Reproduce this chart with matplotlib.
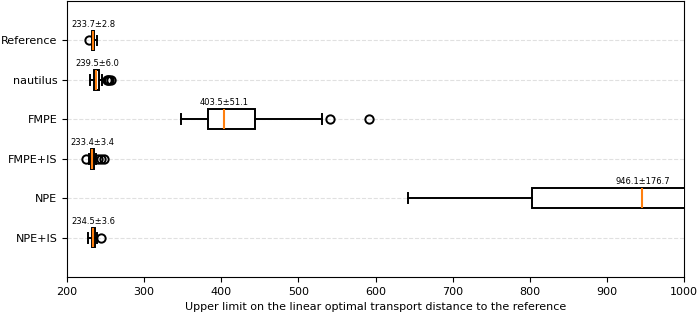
import numpy as np
import matplotlib
matplotlib.use("Agg")
import matplotlib.pyplot as plt

# Box statistics
methods = ["Reference", "nautilus", "FMPE", "FMPE+IS", "NPE", "NPE+IS"]
means = [233.7, 239.5, 403.5, 233.4, 946.1, 234.5]
stds = [2.8, 6.0, 51.1, 3.4, 176.7, 3.6]
medians = [234.0, 238.0, 403.0, 233.0, 946.0, 234.0]
q1 = [233.0, 235.5, 382.5, 231.5, 803.5, 232.0]
q3 = [235.0, 241.5, 443.5, 235.0, 1085.0, 236.0]
whislo = [232.0, 229.5, 348.0, 228.5, 642.0, 227.5]
whishi = [238.5, 246.0, 530.0, 238.0, 1290.0, 238.5]
fliers = [
    [228.5],
    [252.0, 253.5, 255.0, 256.5],
    [541.0, 592.0],
    [224.5, 240.5, 244.0, 248.5],
    [],
    [244.0],
]

stats = []
for i, name in enumerate(methods):
    stats.append(dict(label=name, med=medians[i], q1=q1[i], q3=q3[i],
                      whislo=whislo[i], whishi=whishi[i], fliers=fliers[i]))

plt.rcParams["font.size"] = 8

fig = plt.figure(figsize=(6.99, 3.15), dpi=100)
ax = fig.add_axes([67 / 699, 38 / 315, 617 / 699, 276 / 315])

lw = 1.4
positions = np.arange(len(methods))
ax.bxp(stats, positions=positions, vert=False, widths=0.5, patch_artist=True,
       boxprops=dict(facecolor="white", edgecolor="black", linewidth=lw),
       whiskerprops=dict(linewidth=lw),
       capprops=dict(linewidth=lw),
       medianprops=dict(color="#ff7f0e", linewidth=1.5),
       flierprops=dict(marker="o", markersize=6, markerfacecolor="none",
                       markeredgecolor="black", markeredgewidth=lw),
       zorder=3)

# mean ± std annotation above each box
for i in range(len(methods)):
    ax.text(means[i], positions[i] - 0.3, f"{means[i]:.1f}±{stds[i]:.1f}",
            ha="center", va="bottom", fontsize=6, zorder=4)

ax.set_xlim(200, 1000)
ax.set_ylim(6.0, -1.0)
ax.set_yticks(positions)
ax.set_yticklabels(methods)
ax.yaxis.grid(True, linestyle="--", color="#cccccc", alpha=0.6, zorder=0)
ax.set_axisbelow(True)
ax.set_xlabel("Upper limit on the linear optimal transport distance to the reference")

fig.savefig("out.png", dpi=100)
